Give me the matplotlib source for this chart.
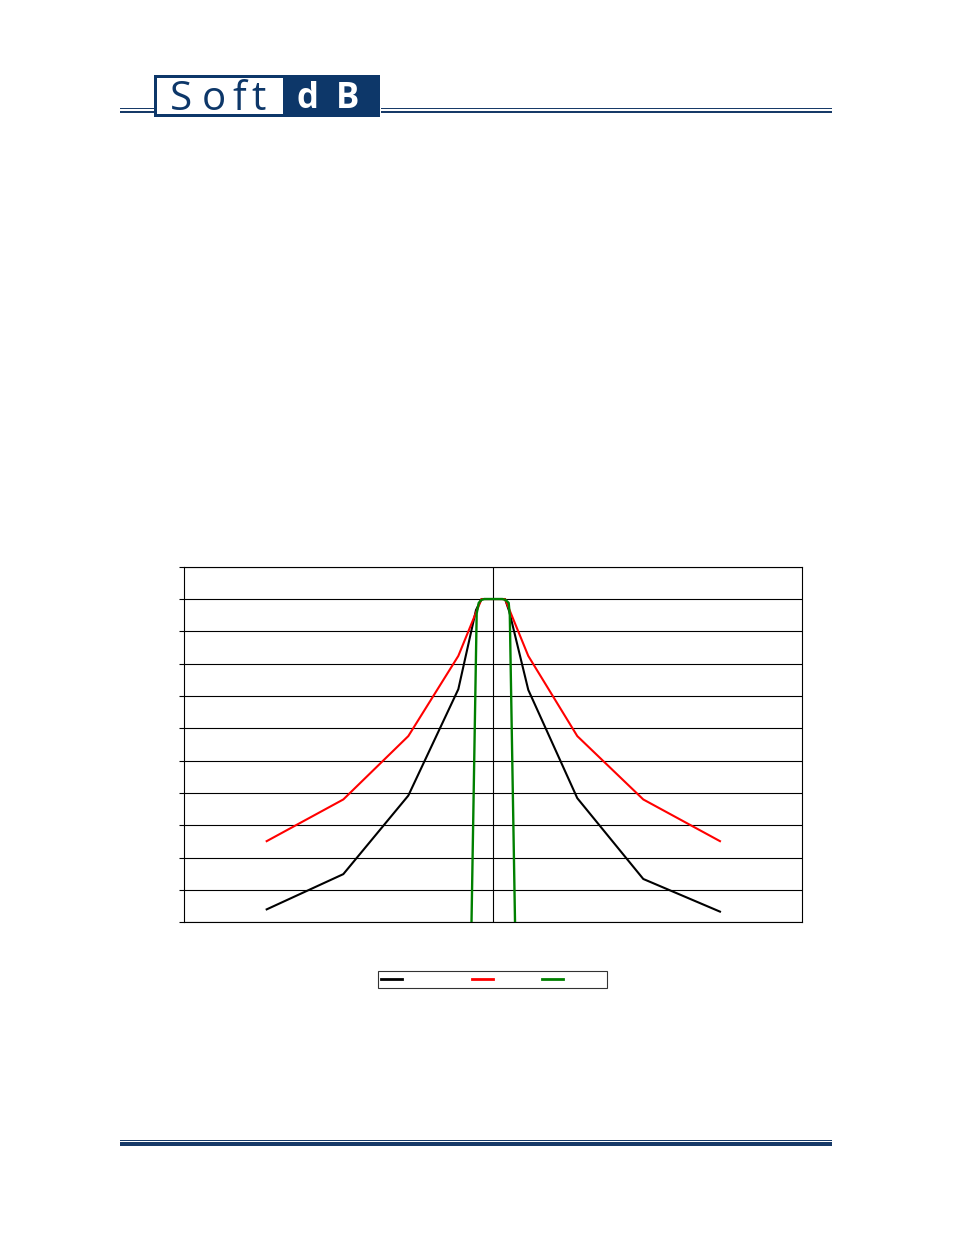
import numpy as np
import matplotlib
matplotlib.use("Agg")
import matplotlib.pyplot as plt
from matplotlib.patches import Rectangle
from matplotlib.lines import Line2D

# filter masks, x in octave-like units around band centre, y in dB
black_x = [-3.667, -2.427, -1.375, -0.566, -0.28, -0.19, 0.0, 0.19, 0.259, 0.566, 1.359, 2.427, 3.668]
black_y = [-96.0, -85.1, -60.8, -27.9, -3.4, 0.0, 0.0, 0.0, -3.9, -28.1, -61.6, -86.6, -96.7]

red_x = [-3.667, -2.427, -1.375, -0.566, -0.19, 0.19, 0.566, 1.359, 2.427, 3.668]
red_y = [-74.9, -62.0, -42.4, -17.6, 0.0, 0.0, -17.6, -42.4, -62.0, -74.9]

green_x = [-0.357, -0.269, -0.236, -0.194, -0.146, 0.0, 0.146, 0.2, 0.249, 0.267, 0.356]
green_y = [-105.0, -4.5, -1.2, -0.3, 0.0, 0.0, 0.0, -0.3, -1.2, -5.0, -105.0]

yticks = np.arange(-100, 11, 10)
legend_labels = ["\u00a0" * 12, "\u00a0" * 6, "\u00a0" * 10]

navy = "#173a68"
W, H = 954, 1235
fig = plt.figure(figsize=(W / 100, H / 100), dpi=100)

# page decoration layer in pixel coords
deco = fig.add_axes([0, 0, 1, 1])
deco.set_xlim(0, W)
deco.set_ylim(H, 0)
deco.axis("off")

# header lines
for x0, x1 in [(120, 154), (381, 832)]:
    deco.add_patch(Rectangle((x0, 108.0), x1 - x0, 1.0, color=navy, lw=0))
    deco.add_patch(Rectangle((x0, 110.5), x1 - x0, 2.8, color=navy, lw=0))
# footer lines
deco.add_patch(Rectangle((120, 1139.8), 712, 1.0, color=navy, lw=0))
deco.add_patch(Rectangle((120, 1142.2), 712, 3.6, color=navy, lw=0))

# logo
logo_blue = "#0d3769"
deco.add_patch(Rectangle((154, 74.7), 226, 42, color=logo_blue, lw=0))
deco.add_patch(Rectangle((157.5, 78.0), 125.5, 35.5, color="white", lw=0))
for ch, xc in zip("Soft", [181, 214, 239, 259]):
    deco.text(xc, 109.5, ch, ha="center", va="baseline", fontsize=29,
              family="Open Sans", color=logo_blue)
for ch, xc in zip("dB", [307.5, 347.5]):
    deco.text(xc, 107.5, ch, ha="center", va="baseline", fontsize=25,
              family="Open Sans", fontweight="bold", color="white")

# chart
ax = fig.add_axes([184.3 / W, 1 - 922.3 / H, 618 / W, 355.6 / H])
ax.plot(black_x, black_y, color="black", lw=1.5, zorder=3)
ax.plot(red_x, red_y, color="#ff0000", lw=1.5, zorder=4)
ax.plot(green_x, green_y, color="#008000", lw=1.7, zorder=5)

ax.set_xlim(-5, 5)
ax.set_ylim(-100, 10)
ax.set_yticks(yticks)
ax.set_xticks([0])
ax.tick_params(axis="y", direction="out", length=3.5, width=0.8, labelleft=False)
ax.tick_params(axis="x", length=0, labelbottom=False)
ax.grid(True, color="black", lw=0.8)
for s in ax.spines.values():
    s.set_color("black")
    s.set_linewidth(0.8)

handles = [Line2D([], [], color="black", lw=2),
           Line2D([], [], color="#ff0000", lw=2),
           Line2D([], [], color="#008000", lw=2)]
leg = fig.legend(handles, legend_labels, loc="center",
                 bbox_to_anchor=(492.5 / W, 1 - 979.5 / H), ncol=3,
                 fontsize=8, handlelength=1.9, handletextpad=0.5,
                 columnspacing=2.0, borderpad=0.3, borderaxespad=0,
                 fancybox=False, frameon=True)
leg.get_frame().set_edgecolor("black")
leg.get_frame().set_linewidth(0.8)

fig.savefig("out.png", dpi=100)
